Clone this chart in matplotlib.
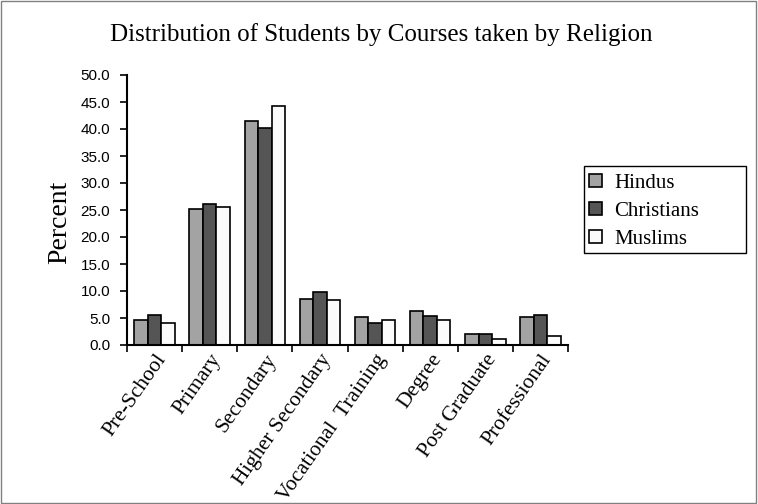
import matplotlib
matplotlib.use("Agg")
import matplotlib.pyplot as plt
import numpy as np
from matplotlib.patches import Rectangle

categories = ["Pre-School", "Primary", "Secondary", "Higher Secondary",
              "Vocational  Training", "Degree", "Post Graduate", "Professional"]
hindus = [4.6, 25.2, 41.5, 8.6, 5.1, 6.3, 2.0, 5.1]
christians = [5.6, 26.2, 40.2, 9.9, 4.0, 5.3, 2.0, 5.6]
muslims = [4.0, 25.6, 44.2, 8.3, 4.7, 4.7, 1.1, 1.7]
series_names = ["Hindus", "Christians", "Muslims"]
colors = ["#a3a3a3", "#555555", "#fbfbfb"]
yticks = [0, 5, 10, 15, 20, 25, 30, 35, 40, 45, 50]

fig = plt.figure(figsize=(7.58, 5.04), dpi=100)
fig.patches.append(Rectangle((0.001, 0.001), 0.997, 0.997, transform=fig.transFigure,
                             fill=False, edgecolor="#808080", linewidth=1))
ax = fig.add_axes([127/758, 1-345/504, (568-127)/758, (345-75)/504])

x = np.arange(len(categories))
w = 0.245
for i, (vals, name, c) in enumerate(zip([hindus, christians, muslims], series_names, colors)):
    ax.bar(x + (i-1)*w, vals, width=w, color=c, edgecolor="black", linewidth=1.2, label=name)

ax.set_xlim(-0.5, len(categories)-0.5)
ax.set_ylim(0, 50)
ax.set_yticks(yticks)
ax.set_yticklabels([f"{v:.1f}" for v in yticks], fontfamily="Liberation Sans", fontsize=11)
ax.set_xticks(x)
ax.set_xticklabels(categories, rotation=55, ha="right", rotation_mode="anchor",
                   fontfamily="Liberation Serif", fontsize=15.5)
ax.tick_params(axis="x", length=0, pad=4)
ax.set_xticks(np.arange(-0.5, len(categories)), minor=True)
ax.tick_params(axis="x", which="minor", length=5, width=1.2, direction="out")
ax.tick_params(axis="y", length=5, width=1.2, direction="out", pad=7)
for s in ["top", "right"]:
    ax.spines[s].set_visible(False)
for s in ["left", "bottom"]:
    ax.spines[s].set_linewidth(1.5)

fig.text(60/758, 1-222/504, "Percent", rotation=90, ha="center", va="center",
         fontfamily="Liberation Serif", fontsize=20)
fig.text(381/758, 1-35/504, "Distribution of Students by Courses taken by Religion",
         ha="center", va="center", fontfamily="Liberation Serif", fontsize=18)

fig.patches.append(Rectangle((584/758, 1-253/504), (746-584)/758, (253-166)/504,
                             transform=fig.transFigure, fill=False, edgecolor="black",
                             linewidth=1.0))
leg = fig.legend(loc="upper left", bbox_to_anchor=(589/758, 1-174/504), frameon=False,
                 prop={"family": "Liberation Serif", "size": 15},
                 handlelength=0.6, handleheight=0.6, handletextpad=0.6, borderpad=0,
                 labelspacing=0.42, borderaxespad=0)
for h in leg.legend_handles:
    h.set_linewidth(1.2)

fig.savefig("out.png", dpi=100)
